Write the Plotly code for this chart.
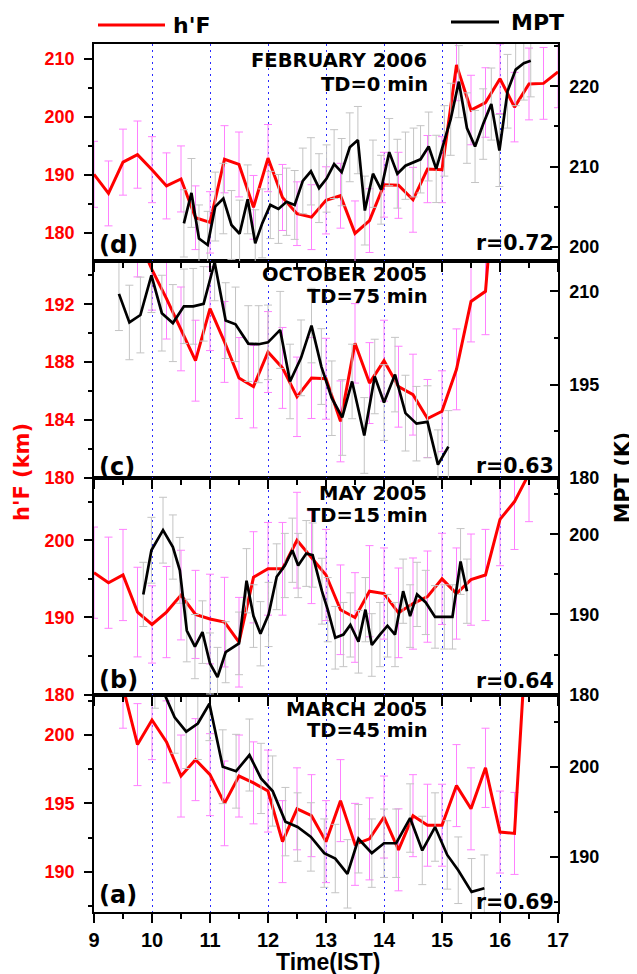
import plotly.graph_objects as go

# ---------------- DATA ----------------
# Panel (d) FEBRUARY 2006
hf_d_t = [9.0, 9.25, 9.5, 9.75, 10.0, 10.25, 10.5, 10.75, 11.0, 11.25, 11.5, 11.75, 12.0, 12.25, 12.5, 12.75,
          13.0, 13.25, 13.5, 13.75, 14.0, 14.25, 14.5, 14.75, 15.0, 15.25, 15.5, 15.75, 16.0, 16.25, 16.5, 16.75, 17.0]
hf_d = [190.1, 186.8, 192.2, 193.5, 190.9, 188.1, 189.3, 182.6, 181.8, 192.7, 191.8, 184.4, 192.9, 186.1, 183.3, 182.7,
        185.6, 186.4, 179.9, 182.1, 188.3, 188.2, 185.7, 191.0, 190.9, 209.0, 201.2, 202.5, 206.6, 201.7, 205.7, 205.8, 207.8]
hf_d_err = [5.7, 5.6, 5.7, 5.8, 5.7, 5.7, 5.7, 5.5, 5.3, 5.8, 5.6, 5.5, 5.8, 5.7, 5.5, 5.6,
            5.8, 5.6, 5.6, 5.5, 5.6, 5.7, 5.6, 5.8, 5.7, 6.2, 6.0, 6.0, 6.0, 6.0, 6.2, 6.2, 6.2]
mpt_d_t = [10.55, 10.68, 10.81, 10.96, 11.09, 11.23, 11.37, 11.51, 11.65, 11.78, 11.90, 12.04, 12.18, 12.32, 12.46,
           12.60, 12.74, 12.88, 13.01, 13.14, 13.27, 13.41, 13.55, 13.67, 13.81, 13.95, 14.09, 14.23, 14.37, 14.51,
           14.63, 14.77, 14.90, 15.04, 15.15, 15.29, 15.43, 15.57, 15.71, 15.85, 15.99, 16.13, 16.27, 16.41, 16.53]
mpt_d = [202.9, 206.7, 201.0, 200.2, 205.0, 206.0, 202.7, 201.6, 205.9, 200.4, 202.9, 205.2, 204.7, 205.6, 205.2,
         208.2, 209.4, 207.3, 208.5, 210.3, 209.3, 212.4, 213.3, 204.5, 209.1, 207.1, 211.8, 209.1, 210.1, 210.5,
         210.9, 212.5, 209.7, 213.2, 215.9, 220.6, 214.8, 212.5, 215.3, 217.8, 212.0, 219.4, 222.1, 222.9, 223.2]
mpt_d_err = [4.2, 4.3, 4.2, 4.2, 4.3, 4.4, 4.3, 4.2, 4.3, 4.2, 4.3, 4.2, 4.3, 4.2, 4.3,
             4.1, 4.2, 4.3, 4.2, 4.3, 4.2, 4.3, 4.2, 4.3, 4.2, 4.3, 4.2, 4.3, 4.2, 4.3,
             4.2, 4.3, 4.2, 4.4, 4.5, 4.5, 4.4, 4.5, 4.4, 4.5, 4.5, 4.6, 4.5, 4.6, 4.5]

# Panel (c) OCTOBER 2005
hf_c_t = [9.75, 10.0, 10.25, 10.5, 10.75, 11.0, 11.25, 11.5, 11.75, 12.0, 12.25, 12.5, 12.75, 13.0,
          13.25, 13.5, 13.75, 14.0, 14.25, 14.5, 14.75, 15.0, 15.25, 15.5, 15.75, 16.0]
hf_c = [196.7, 194.4, 192.4, 190.3, 188.1, 191.7, 189.4, 186.9, 186.3, 188.7, 187.6, 185.6, 186.9, 186.85,
        183.9, 189.3, 186.55, 188.1, 186.3, 185.75, 184.1, 184.6, 187.5, 192.2, 192.9, 205.0]
hf_c_err = [2.8, 2.8, 2.8, 2.9, 2.8, 2.9, 2.8, 2.8, 2.85, 2.8, 2.8, 2.75, 2.8, 2.8,
            2.8, 2.75, 2.8, 2.8, 2.8, 2.8, 2.7, 2.8, 2.8, 2.8, 3.0, 3.0]
mpt_c_t = [9.43, 9.61, 9.80, 9.99, 10.17, 10.36, 10.55, 10.71, 10.89, 11.08, 11.27, 11.44, 11.66, 11.84, 12.00, 12.21,
           12.38, 12.57, 12.75, 12.92, 13.10, 13.28, 13.45, 13.66, 13.84, 14.00, 14.19, 14.37, 14.56, 14.75, 14.93, 15.11]
mpt_c = [209.6, 205.0, 206.2, 212.6, 206.5, 204.9, 207.6, 207.6, 208.0, 214.7, 205.3, 204.7, 201.6, 201.5, 201.8, 203.8,
         195.5, 199.3, 204.5, 197.9, 192.8, 189.7, 195.5, 186.8, 196.3, 192.1, 196.6, 190.4, 188.7, 189.0, 182.1, 185.0]
mpt_c_err = [5.9, 6.0, 6.1, 6.0, 6.1, 6.2, 6.0, 6.1, 6.0, 6.2, 6.1, 6.0, 6.1, 6.2, 6.0, 6.2,
             6.0, 6.1, 6.0, 6.1, 6.0, 6.1, 6.0, 6.1, 6.0, 6.1, 6.0, 6.1, 6.0, 5.8, 5.6, 5.8]

# Panel (b) MAY 2005
hf_b_t = [9.0, 9.25, 9.5, 9.75, 10.0, 10.25, 10.5, 10.75, 11.0, 11.25, 11.5, 11.75, 12.0, 12.25, 12.5, 12.75,
          13.0, 13.25, 13.5, 13.75, 14.0, 14.25, 14.5, 14.75, 15.0, 15.25, 15.5, 15.75, 16.0, 16.25, 16.5]
hf_b = [195.8, 194.5, 195.5, 190.7, 189.1, 190.7, 192.9, 190.4, 189.8, 189.4, 186.8, 195.2, 196.3, 196.3, 200.0, 197.8,
        195.5, 191.0, 190.0, 193.4, 193.1, 190.6, 191.8, 192.7, 195.0, 193.1, 194.9, 195.5, 202.7, 205.0, 208.6]
hf_b_err = [5.9, 5.9, 5.9, 5.8, 5.0, 5.9, 5.8, 5.7, 5.8, 5.8, 5.8, 5.9, 6.0, 6.0, 6.2, 6.0,
            5.9, 5.8, 5.8, 5.9, 5.9, 5.8, 5.9, 5.9, 5.9, 5.9, 5.9, 5.9, 6.0, 6.2, 6.2]
mpt_b_t = [9.85, 9.99, 10.19, 10.36, 10.48, 10.60, 10.74, 10.87, 11.00, 11.13, 11.27, 11.50, 11.63, 11.75, 11.87,
           12.01, 12.15, 12.29, 12.42, 12.52, 12.66, 12.77, 12.93, 13.03, 13.16, 13.30, 13.42, 13.56, 13.68, 13.79,
           13.93, 14.06, 14.19, 14.33, 14.45, 14.57, 14.72, 14.88, 15.04, 15.18, 15.32, 15.43]
mpt_b = [192.5, 198.0, 200.5, 198.4, 195.5, 188.0, 186.0, 187.8, 183.9, 182.2, 185.3, 186.4, 194.2, 189.8, 187.6,
         190.0, 194.7, 196.1, 198.0, 196.1, 197.6, 197.4, 192.9, 190.6, 187.1, 187.5, 188.7, 186.6, 190.6, 186.2,
         187.5, 188.6, 187.5, 192.9, 189.8, 192.5, 191.5, 189.7, 189.7, 189.7, 196.6, 192.9]
mpt_b_err = [4.0, 4.1, 4.1, 4.0, 4.1, 3.9, 4.0, 3.9, 3.8, 3.7, 3.8, 3.9, 4.0, 3.9, 4.0,
             4.0, 4.1, 4.0, 4.0, 4.0, 4.1, 4.0, 4.1, 4.0, 3.9, 4.0, 4.0, 3.9, 4.0, 3.9,
             4.0, 3.9, 4.0, 4.0, 3.9, 4.0, 4.0, 3.9, 4.0, 4.0, 4.1, 4.0]

# Panel (a) MARCH 2005
hf_a_t = [9.5, 9.75, 10.0, 10.25, 10.5, 10.75, 11.0, 11.25, 11.5, 11.75, 12.0, 12.25, 12.5, 12.75, 13.0,
          13.25, 13.5, 13.75, 14.0, 14.25, 14.5, 14.75, 15.0, 15.25, 15.5, 15.75, 16.0, 16.25, 16.5]
hf_a = [203.5, 199.3, 201.1, 199.5, 197.0, 198.2, 197.1, 195.0, 197.0, 196.5, 195.9, 192.2, 194.6, 194.1, 192.2,
        195.2, 192.0, 192.4, 194.0, 191.6, 194.1, 193.4, 193.4, 196.3, 194.6, 197.6, 192.9, 192.8, 210.5]
hf_a_err = [3.0, 3.0, 2.9, 3.0, 3.0, 3.0, 3.0, 3.1, 3.0, 3.0, 3.0, 3.0, 3.0, 3.0, 3.0,
            3.0, 3.0, 3.0, 3.0, 3.0, 3.0, 3.0, 3.0, 3.0, 3.0, 2.9, 3.0, 3.0, 3.0]
mpt_a_t = [10.05, 10.39, 10.59, 10.79, 10.99, 11.22, 11.45, 11.68, 11.88, 12.08, 12.30, 12.51, 12.74, 12.97,
           13.16, 13.37, 13.56, 13.79, 14.00, 14.21, 14.45, 14.66, 14.88, 15.09, 15.28, 15.51, 15.73]
mpt_a = [210.5, 205.5, 203.9, 204.8, 207.0, 200.0, 199.5, 201.3, 198.7, 197.3, 193.9, 193.3, 192.2, 190.4,
         189.8, 188.1, 192.0, 190.4, 191.5, 191.5, 194.3, 190.7, 193.3, 190.2, 188.5, 186.1, 186.5]
mpt_a_err = [4.0, 4.0, 4.1, 4.0, 4.1, 4.1, 4.1, 4.0, 3.9, 3.9, 3.8, 3.8, 3.8, 3.8,
             3.8, 3.8, 3.8, 3.8, 3.8, 3.8, 3.8, 3.8, 3.8, 3.8, 3.7, 3.7, 3.7]

titles = ["MARCH 2005", "MAY 2005", "OCTOBER 2005", "FEBRUARY 2006"]
td_labels = ["TD=45 min", "TD=15 min", "TD=75 min", "TD=0 min"]
panel_labels = ["(a)", "(b)", "(c)", "(d)"]
r_labels = ["r=0.69", "r=0.64", "r=0.63", "r=0.72"]
x_ticks = [9, 10, 11, 12, 13, 14, 15, 16, 17]
legend_names = ["h'F", "MPT"]

# ---------------- LAYOUT HELPERS ----------------
# target plot area in screenshot pixels; the page body adds an 8px offset
OFF = 8
L, R, T, B = 94, 558, 44, 912
SW, SH = 637, 974
W, H = SW - OFF, SH - OFF
def pxp(x):
    return (x - L) / (R - L)
def pyp(y):
    return (B - y) / (B - T)

RED = "#ff0000"
PINK = "#ff80ff"
GRAY = "#c4c4c4"
GRID = "#2a2aff"

panels = [
    dict(hf_t=hf_a_t, hf=hf_a, hf_e=hf_a_err, m_t=mpt_a_t, m=mpt_a, m_e=mpt_a_err,
         yl=[187.05, 202.93], yl_dt=5, yr=[183.86, 207.97], yr_dt=10),
    dict(hf_t=hf_b_t, hf=hf_b, hf_e=hf_b_err, m_t=mpt_b_t, m=mpt_b, m_e=mpt_b_err,
         yl=[179.97, 208.05], yl_dt=10, yr=[179.97, 207.0], yr_dt=10),
    dict(hf_t=hf_c_t, hf=hf_c, hf_e=hf_c_err, m_t=mpt_c_t, m=mpt_c, m_e=mpt_c_err,
         yl=[179.98, 195.0], yl_dt=4, yr=[179.95, 214.9], yr_dt=15),
    dict(hf_t=hf_d_t, hf=hf_d, hf_e=hf_d_err, m_t=mpt_d_t, m=mpt_d, m_e=mpt_d_err,
         yl=[175.13, 212.6], yl_dt=10, yr=[198.2, 225.3], yr_dt=10),
]

fig = go.Figure()
layout = dict(
    width=W, height=H, margin=dict(l=L - OFF, r=SW - R, t=T - OFF, b=SH - B),
    paper_bgcolor="white", plot_bgcolor="white", showlegend=False,
)

tick_font_l = dict(family="Liberation Sans, Arial", size=18, color=RED, weight="bold")
tick_font_r = dict(family="Liberation Sans, Arial", size=18, color="black", weight="bold")

for i, p in enumerate(panels):
    xn = "x" if i == 0 else f"x{i + 1}"
    yl = "y" if i == 0 else f"y{2 * i + 1}"
    yr = f"y{2 * i + 2}"
    fig.add_trace(go.Scatter(
        x=p["hf_t"], y=p["hf"], mode="lines", xaxis=xn, yaxis=yl,
        line=dict(color=RED, width=3),
        error_y=dict(type="data", array=p["hf_e"], color=PINK, thickness=1, width=4),
        name=legend_names[0]))
    fig.add_trace(go.Scatter(
        x=p["m_t"], y=p["m"], mode="lines", xaxis=xn, yaxis=yr,
        line=dict(color="black", width=2.7),
        error_y=dict(type="data", array=p["m_e"], color=GRAY, thickness=1, width=4),
        name=legend_names[1]))

    dom = [i / 4, (i + 1) / 4]
    xkey = "xaxis" if i == 0 else f"xaxis{i + 1}"
    layout[xkey] = dict(
        domain=[0, 1], anchor=yl, range=[9, 17], tickvals=x_ticks,
        ticktext=[str(v) for v in x_ticks], showticklabels=(i == 0),
        ticks="outside", ticklen=9, tickwidth=1.5, tickcolor="black",
        minor=dict(dtick=0.5, tick0=9, ticks="outside", ticklen=5, tickwidth=1.5, tickcolor="black", showgrid=False),
        showgrid=True, gridcolor=GRID, griddash="2px,4px", gridwidth=1.2,
        showline=True, linecolor="black", linewidth=1.5, mirror=True, zeroline=False,
        tickfont=dict(family="Liberation Sans Narrow, Liberation Sans, Arial", size=20, color="black", weight="bold"),
        ticklabelstandoff=0,
    )
    if i > 0:
        layout[xkey]["matches"] = "x"
    ylkey = "yaxis" if i == 0 else f"yaxis{2 * i + 1}"
    yrkey = f"yaxis{2 * i + 2}"
    layout[ylkey] = dict(
        domain=dom, anchor=xn, range=p["yl"], dtick=p["yl_dt"], tick0=0,
        ticks="outside", ticklen=8, tickwidth=1.5, tickcolor="black",
        minor=dict(dtick=p["yl_dt"] / 2, ticks="outside", ticklen=4, tickwidth=1.5, tickcolor="black", showgrid=False),
        showgrid=False, zeroline=False, showline=True, linecolor="black", linewidth=1.5,
        tickfont=tick_font_l, ticklabelstandoff=6,
    )
    layout[yrkey] = dict(
        domain=dom, anchor=xn, overlaying=yl, side="right", range=p["yr"], dtick=p["yr_dt"], tick0=0,
        ticks="inside", ticklen=8, tickwidth=1.5, tickcolor="black",
        minor=dict(dtick=p["yr_dt"] / 2, ticks="inside", ticklen=4, tickwidth=1.5, tickcolor="black", showgrid=False),
        showgrid=False, zeroline=False, showline=True, linecolor="black", linewidth=1.5,
        tickfont=tick_font_r, ticklabelstandoff=6,
    )

fig.update_layout(**layout)

# ---------------- TEXT ----------------
DV = "DejaVu Sans"
def ann(text, x, y, size, color="black", xanchor="center", family=DV, angle=0):
    fig.add_annotation(text=text, x=pxp(x), y=pyp(y), xref="paper", yref="paper",
                       xanchor=xanchor, yanchor="middle", showarrow=False, textangle=angle,
                       font=dict(family=family, size=size, color=color, weight="bold"))

title_y = [(709, 731), (493.5, 515), (274, 296), (60, 84)]
lab_y = [895, 680, 467, 245]
r_y = [902, 681, 466, 243]
for i in range(4):
    ann(titles[i], 429, title_y[i][0], 19.5, xanchor="right")
    ann(td_labels[i], 430, title_y[i][1], 19.5, xanchor="right")
    ann(panel_labels[i], 97, lab_y[i], 24, xanchor="left")
    ann(r_labels[i], 556, r_y[i], 20.5, xanchor="right")

ann("h'F (km)", 22, 472, 21, color=RED, angle=-90)
ann("MPT (K)", 623, 478, 20.5, angle=-90)
ann("Time(IST)", 327.5, 962, 23, family="Liberation Sans, Arial")

# legend
fig.add_shape(type="line", xref="paper", yref="paper", x0=pxp(98), x1=pxp(165), y0=pyp(25), y1=pyp(25),
              line=dict(color=RED, width=3))
ann(legend_names[0], 171, 26, 22, xanchor="left")
fig.add_shape(type="line", xref="paper", yref="paper", x0=pxp(451), x1=pxp(499), y0=pyp(22), y1=pyp(22),
              line=dict(color="black", width=3))
ann(legend_names[1], 509, 22, 22, xanchor="left")

fig.write_html("out.html")
